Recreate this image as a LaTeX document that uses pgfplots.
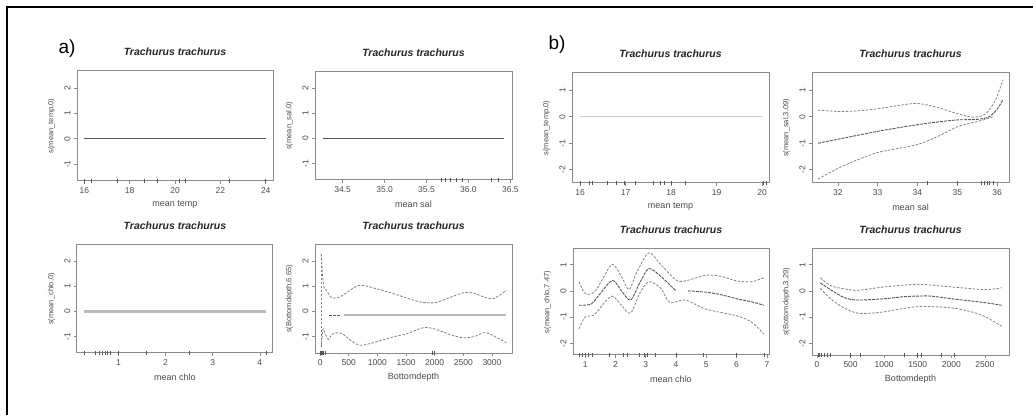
\documentclass[border=0pt]{standalone}
\usepackage{pgfplots}
\pgfplotsset{compat=1.18}
\usepackage{fontspec}
\setmainfont{Liberation Sans}
\definecolor{axc}{HTML}{8A8A8A}
\definecolor{txc}{HTML}{4A4A4A}
\definecolor{lnc}{HTML}{555555}
\pgfplotsset{
 rpanel/.style={
  scale only axis, anchor=south west,
  axis line style={axc, line width=1pt},
  tick style={axc, line width=0.6pt},
  tick align=outside, major tick length=3pt,
  xtick pos=left, ytick pos=left,
  ticklabel style={font=\fontsize{8.5}{9}\selectfont, text=txc},
  yticklabel style={rotate=90, anchor=south},
  title style={font=\fontsize{10.5}{11}\selectfont\bfseries\itshape, text=black!85, at={(0.5,1)}, anchor=center, yshift=13pt},
  xlabel style={font=\fontsize{9}{10}\selectfont, text=txc, at={(axis description cs:0.5,0)}, anchor=center, yshift=-24pt},
  ylabel style={font=\fontsize{7.5}{8}\selectfont, text=txc, at={(axis description cs:-0.13,0.5)}, anchor=center},
  title={Trachurus trachurus},
  clip mode=individual,
  /pgf/number format/assume math mode=true,
  /pgf/number format/1000 sep={},
  scaled ticks=false,
 },
 rug/.style={only marks, mark=|, mark size=2pt, lnc, mark options={line width=0.5pt}},
 band/.style={lnc!75, line width=0.8pt, dash pattern=on 2.5pt off 1.5pt},
 mid/.style={lnc, line width=0.9pt, dash pattern=on 3pt off 1pt},
}
\begin{document}
\begin{tikzpicture}
\useasboundingbox (0,0) rectangle (1033pt,415pt);
\draw[line width=2pt] (7pt,0) -- (7pt,407.5pt) -- (1033pt,407.5pt);
\node at (67pt,366pt) {\fontsize{19}{20}\selectfont a)};
\node at (557pt,370pt) {\fontsize{19}{20}\selectfont b)};

% a1
\begin{axis}[rpanel, at={(77pt,234pt)}, width=196pt, height=110pt,
  xmin=15.68, xmax=24.32, ymin=-1.66, ymax=2.66,
  xtick={16,18,20,22,24}, ytick={-1,0,1,2},
  xlabel={mean temp}, ylabel={s(mean\_temp,0)}]
\addplot[lnc, line width=1pt] coordinates {(16,0)(24,0)};
\addplot[rug] coordinates {(16,-1.66)(16.29,-1.66)(17.46,-1.66)(18.64,-1.66)(19.22,-1.66)(20.18,-1.66)(20.47,-1.66)(22.37,-1.66)(23.99,-1.66)};
\end{axis}

% a2
\begin{axis}[rpanel, at={(315pt,235pt)}, width=197pt, height=108pt,
  xmin=34.17, xmax=36.52, ymin=-1.66, ymax=2.66,
  xtick={34.5,35,35.5,36,36.5}, ytick={-1,0,1,2},
  xticklabel style={/pgf/number format/.cd, fixed, fixed zerofill, precision=1},
  xlabel={mean sal}, ylabel={s(mean\_sal,0)}]
\addplot[lnc, line width=1pt] coordinates {(34.26,0)(36.43,0)};
\addplot[rug] coordinates {(35.68,-1.66)(35.72,-1.66)(35.78,-1.66)(35.85,-1.66)(35.93,-1.66)(36.27,-1.66)(36.36,-1.66)};
\end{axis}

% a3
\begin{axis}[rpanel, at={(77pt,62pt)}, width=196pt, height=108pt,
  xmin=0.12, xmax=4.28, ymin=-1.66, ymax=2.66,
  xtick={1,2,3,4}, ytick={-1,0,1,2},
  xlabel={mean chlo}, ylabel={s(mean\_chlo,0)}]
\addplot[gray!55, line width=2.6pt] coordinates {(0.27,0)(4.13,0)};
\addplot[rug] coordinates {(0.27,-1.66)(0.5,-1.66)(0.6,-1.66)(0.66,-1.66)(0.72,-1.66)(0.77,-1.66)(0.82,-1.66)(1.0,-1.66)(1.6,-1.66)(2.5,-1.66)(4.13,-1.66)};
\end{axis}

% a4
\begin{axis}[rpanel, at={(315pt,62pt)}, width=197pt, height=108pt,
  xmin=-90, xmax=3350, ymin=-1.66, ymax=2.66,
  xtick={0,500,1000,1500,2000,2500,3000}, ytick={-1,0,1,2},
  xlabel={Bottomdepth}, ylabel={s(Bottomdepth,6.65)}]
\addplot[gray!55, line width=2.2pt] coordinates {(420,-0.15)(3250,-0.15)};
\addplot[mid] coordinates {(160,-0.15)(360,-0.15)};
\addplot[band, smooth] coordinates {(20,2.3)(40,1.5)(70,0.95)(110,0.85)(150,0.7)(200,0.55)(300,0.55)(400,0.65)(500,0.82)(700,1.05)(1000,0.9)(1300,0.7)(1500,0.55)(1750,0.38)(2000,0.35)(2200,0.5)(2500,0.75)(2700,0.72)(3000,0.5)(3250,0.85)};
\addplot[band, smooth] coordinates {(20,-1.4)(50,-0.7)(90,-0.9)(150,-1.12)(200,-0.92)(300,-0.85)(400,-0.9)(500,-1.1)(700,-1.35)(1000,-1.2)(1300,-1.0)(1500,-0.9)(1800,-0.65)(2000,-0.7)(2300,-0.95)(2500,-1.05)(2700,-1.0)(2900,-0.85)(3250,-1.25)};
\addplot[band] coordinates {(20,2.3)(20,-1.4)};
\addplot[rug] coordinates {(10,-1.66)(25,-1.66)(40,-1.66)(60,-1.66)(85,-1.66)(1950,-1.66)(2000,-1.66)};
\end{axis}

% b1
\begin{axis}[rpanel, at={(572pt,232pt)}, width=197pt, height=110pt,
  xmin=15.82, xmax=20.15, ymin=-2.5, ymax=1.65,
  xtick={16,17,18,19,20}, ytick={-2,-1,0,1},
  xlabel={mean temp}, ylabel={s(mean\_temp,0)}]
\addplot[gray!40, line width=0.6pt] coordinates {(16,0)(20,0)};
\addplot[rug] coordinates {(16.0,-2.5)(16.2,-2.5)(16.27,-2.5)(16.6,-2.5)(16.8,-2.5)(16.97,-2.5)(17.2,-2.5)(17.6,-2.5)(17.75,-2.5)(17.85,-2.5)(18.0,-2.5)(18.3,-2.5)(20.03,-2.5)(20.1,-2.5)};
\end{axis}

% b2
\begin{axis}[rpanel, at={(812pt,232pt)}, width=197pt, height=110pt,
  xmin=31.35, xmax=36.3, ymin=-2.5, ymax=1.65,
  xtick={32,33,34,35,36}, ytick={-2,-1,0,1},
  xlabel={mean sal}, ylabel={s(mean\_sal,3.09)}]
\addplot[mid, smooth] coordinates {(31.5,-1.0)(32,-0.85)(32.5,-0.7)(33,-0.55)(33.5,-0.42)(34,-0.3)(34.5,-0.2)(35,-0.12)(35.5,-0.1)(35.8,0.0)(36.0,0.28)(36.15,0.65)};
\addplot[band, smooth] coordinates {(31.5,0.25)(32,0.2)(32.5,0.22)(33,0.3)(33.5,0.42)(34,0.5)(34.5,0.35)(35,0.12)(35.4,-0.02)(35.7,0.1)(35.95,0.6)(36.15,1.4)};
\addplot[band, smooth] coordinates {(31.5,-2.35)(32,-1.95)(32.5,-1.62)(33,-1.35)(33.5,-1.2)(34,-1.05)(34.5,-0.75)(35,-0.38)(35.4,-0.22)(35.7,-0.1)(35.9,0.0)};
\addplot[rug] coordinates {(34.25,-2.5)(35.0,-2.5)(35.6,-2.5)(35.68,-2.5)(35.75,-2.5)(35.8,-2.5)(35.9,-2.5)};
\end{axis}

% b3
\begin{axis}[rpanel, at={(573pt,60pt)}, width=196pt, height=106pt,
  xmin=0.6, xmax=7.07, ymin=-2.45, ymax=1.6,
  xtick={1,2,3,4,5,6,7}, ytick={-2,-1,0,1},
  xlabel={mean chlo}, ylabel={s(mean\_chlo,7.47)}]
\addplot[mid, smooth] coordinates {(0.8,-0.55)(1.2,-0.5)(1.5,-0.1)(1.9,0.4)(2.2,0.0)(2.5,-0.35)(2.8,0.3)(3.1,0.85)(3.5,0.55)(4.0,0.0)};
\addplot[mid, smooth] coordinates {(4.4,0.0)(5,-0.05)(5.5,-0.15)(6,-0.3)(6.5,-0.42)(6.9,-0.55)};
\addplot[band, smooth] coordinates {(0.8,0.35)(1.0,-0.1)(1.3,-0.05)(1.6,0.5)(1.9,1.02)(2.2,0.55)(2.45,0.05)(2.7,0.7)(3.1,1.45)(3.5,1.0)(4.0,0.42)(4.3,0.38)(5,0.6)(5.5,0.55)(6,0.38)(6.5,0.35)(6.9,0.5)};
\addplot[band, smooth] coordinates {(0.8,-1.45)(1.0,-1.0)(1.3,-0.92)(1.6,-0.5)(1.9,-0.2)(2.2,-0.55)(2.5,-0.85)(2.8,-0.1)(3.1,0.35)(3.5,0.1)(3.8,-0.45)(4.3,-0.35)(5,-0.7)(6,-0.95)(6.5,-1.2)(6.9,-1.65)};
\addplot[rug] coordinates {(0.8,-2.45)(0.9,-2.45)(1.0,-2.45)(1.1,-2.45)(1.25,-2.45)(1.8,-2.45)(2.25,-2.45)(2.4,-2.45)(2.8,-2.45)(2.95,-2.45)(3.05,-2.45)(3.3,-2.45)(4.0,-2.45)(4.9,-2.45)(6.0,-2.45)(6.9,-2.45)};
\end{axis}

% b4
\begin{axis}[rpanel, at={(812pt,60pt)}, width=197pt, height=106pt,
  xmin=-75, xmax=2860, ymin=-2.45, ymax=1.6,
  xtick={0,500,1000,1500,2000,2500}, ytick={-2,-1,0,1},
  xlabel={Bottomdepth}, ylabel={s(Bottomdepth,3.29)}]
\addplot[mid, smooth] coordinates {(50,0.3)(200,0.05)(400,-0.25)(600,-0.35)(1000,-0.3)(1300,-0.22)(1500,-0.2)(1700,-0.2)(2000,-0.3)(2500,-0.45)(2750,-0.55)};
\addplot[band, smooth] coordinates {(50,0.5)(200,0.2)(400,0.08)(600,0.02)(800,0.08)(1000,0.15)(1500,0.25)(2000,0.15)(2500,0.05)(2750,0.12)};
\addplot[band, smooth] coordinates {(50,0.1)(200,-0.3)(400,-0.65)(600,-0.85)(800,-0.85)(1000,-0.8)(1500,-0.6)(2000,-0.65)(2300,-0.8)(2500,-0.98)(2750,-1.35)};
\addplot[rug] coordinates {(20,-2.45)(40,-2.45)(60,-2.45)(100,-2.45)(150,-2.45)(200,-2.45)(500,-2.45)(650,-2.45)(1300,-2.45)(1500,-2.45)(1550,-2.45)(1850,-2.45)(2050,-2.45)};
\end{axis}
\end{tikzpicture}
\end{document}
